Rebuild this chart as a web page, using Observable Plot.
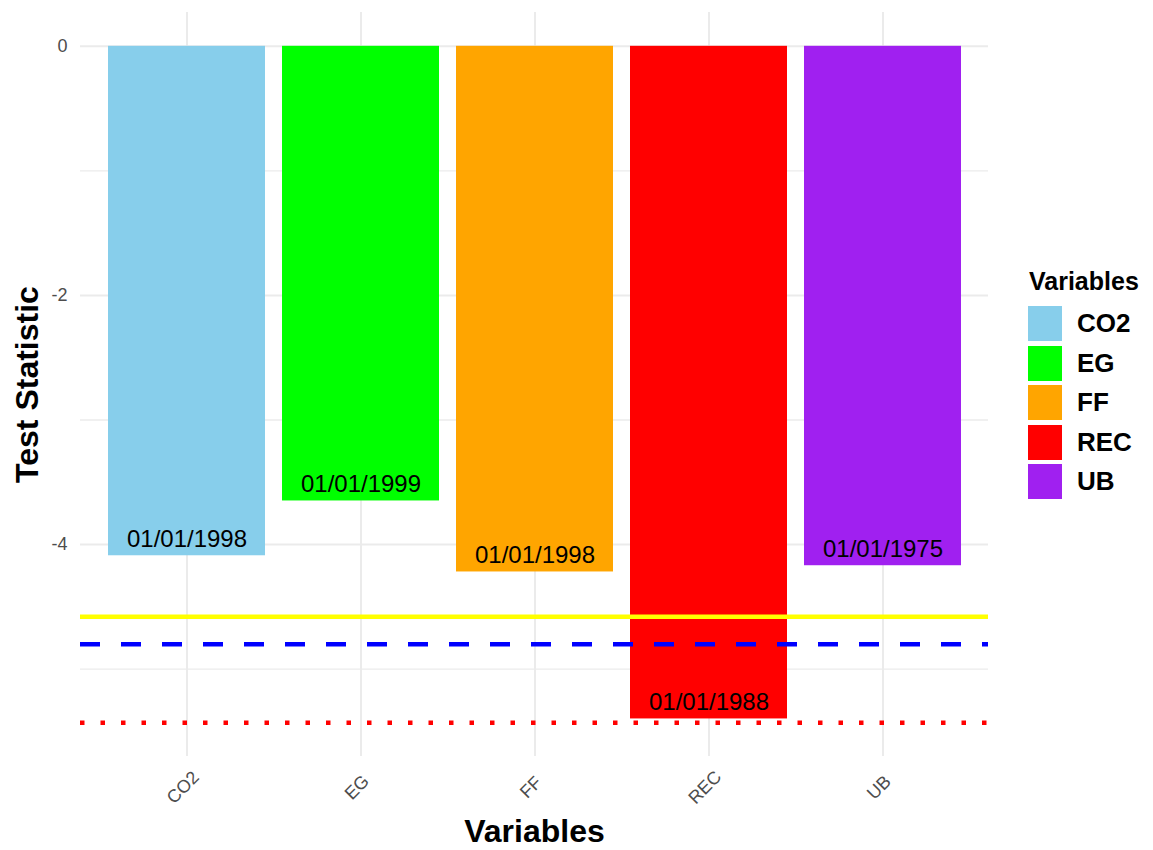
<!DOCTYPE html>
<html>
<head>
<meta charset="utf-8">
<script src="https://cdn.jsdelivr.net/npm/d3@7"></script>
<script src="https://cdn.jsdelivr.net/npm/@observablehq/plot@0.6"></script>
<style>
  html, body { margin: 0; padding: 0; background: #fff; }
  body { font-family: "Liberation Sans", Arial, sans-serif; }
  #wrap { position: relative; width: 1153px; height: 850px; }
  #wrap svg { font-family: "Liberation Sans", Arial, sans-serif; }
  g[aria-label="y-axis label"] text, g[aria-label="x-axis label"] text { font-size: 32px; font-weight: bold; fill: #000; }
  #legend { position: absolute; left: 1027px; top: 266px; font-family: "Liberation Sans", Arial, sans-serif; }
  #legend .title { font-size: 25px; font-weight: bold; color: #000; margin-left: 2px; height: 38px; line-height: 30px; }
  #legend .row { display: flex; align-items: center; height: 39.5px; }
  #legend .sw { width: 36px; height: 37px; box-sizing: border-box; border: 1px solid #fff; }
  #legend .lab { font-size: 26px; font-weight: bold; margin-left: 14px; color: #000; }
</style>
</head>
<body>
<div id="wrap"></div>
<script>
// ---- data ----
const variables = ["CO2", "EG", "FF", "REC", "UB"];
const testStats = [-4.09, -3.65, -4.22, -5.40, -4.17];
const breakDates = ["01/01/1998", "01/01/1999", "01/01/1998", "01/01/1988", "01/01/1975"];
const barColors = ["#87CEEB", "#00FF00", "#FFA500", "#FF0000", "#A020F0"];
const criticalValues = [-5.43, -4.80, -4.58]; // 1%, 5%, 10%
const criticalColors = ["#FF0000", "#0000FF", "#FFFF00"];
const yTicksMajor = [0, -2, -4];
const yTicksMinor = [-1, -3, -5];

const rows = variables.map((v, i) => ({variable: v, stat: testStats[i], date: breakDates[i]}));

// y domain like ggplot: data range incl. reference lines, expanded by 5%
const lo = Math.min(0, ...testStats, ...criticalValues), hi = 0;
const pad = (hi - lo) * 0.05;

const plot = Plot.plot({
  width: 1153,
  height: 850,
  marginLeft: 80,
  marginRight: 165,
  marginTop: 12,
  marginBottom: 94,
  x: {domain: variables, paddingInner: 0.1, paddingOuter: 0.15, align: 0.5},
  y: {domain: [lo - pad, hi + pad]},
  color: {domain: variables, range: barColors},
  marks: [
    Plot.gridY(yTicksMinor, {stroke: "#ebebeb", strokeOpacity: 1, strokeWidth: 1.3}),
    Plot.gridY(yTicksMajor, {stroke: "#ebebeb", strokeOpacity: 1, strokeWidth: 2}),
    Plot.gridX(variables, {stroke: "#ebebeb", strokeOpacity: 1, strokeWidth: 2}),
    Plot.barY(rows, {x: "variable", y1: 0, y2: "stat", fill: "variable"}),
    Plot.ruleY([criticalValues[2]], {stroke: criticalColors[2], strokeWidth: 4.5}),
    Plot.ruleY([criticalValues[1]], {stroke: criticalColors[1], strokeWidth: 4.5, strokeDasharray: "20,21"}),
    Plot.ruleY([criticalValues[0]], {stroke: criticalColors[0], strokeWidth: 4.5, strokeDasharray: "4.5,16"}),
    Plot.text(rows, {x: "variable", y: "stat", text: "date", dy: -16.5, fontSize: 24, fill: "#000", lineAnchor: "middle"}),
    Plot.axisY(yTicksMajor, {
      tickSize: 0, tickPadding: 13, fontSize: 18, fill: "#4d4d4d",
      tickFormat: d => String(d),
      label: "Test Statistic", labelAnchor: "center", labelArrow: "none", labelOffset: 65
    }),
    Plot.axisX(variables, {
      tickSize: 0, tickPadding: 31, tickRotate: -45, fontSize: 18, fill: "#4d4d4d", dx: -4,
      textAnchor: "middle", lineAnchor: "middle",
      label: "Variables", labelAnchor: "center", labelArrow: "none", labelOffset: 85
    })
  ]
});

const wrap = document.getElementById("wrap");
wrap.appendChild(plot);

// legend
const legend = document.createElement("div");
legend.id = "legend";
const title = document.createElement("div");
title.className = "title";
title.textContent = "Variables";
legend.appendChild(title);
variables.forEach((v, i) => {
  const row = document.createElement("div");
  row.className = "row";
  const sw = document.createElement("div");
  sw.className = "sw";
  sw.style.background = barColors[i];
  const lab = document.createElement("span");
  lab.className = "lab";
  lab.textContent = v;
  row.appendChild(sw);
  row.appendChild(lab);
  legend.appendChild(row);
});
wrap.appendChild(legend);
</script>
</body>
</html>
